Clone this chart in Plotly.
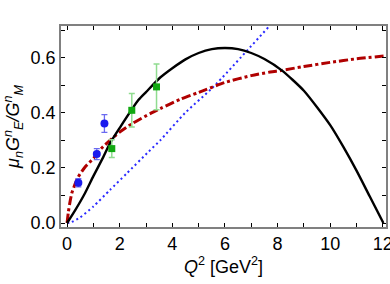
import plotly.graph_objects as go

# Curves
black_x = [0, 0.3, 0.68, 1.0, 1.38, 1.63, 2.0, 2.71, 3.0, 3.54, 4.0, 4.5, 5.0, 5.5, 6.0, 6.5, 7.0, 7.5, 8.16, 9.0, 10.0, 10.5, 11.0, 11.5, 12.02]
black_y = [0, 0.045, 0.108, 0.17, 0.24, 0.289, 0.345, 0.446, 0.475, 0.528, 0.562, 0.594, 0.617, 0.631, 0.635, 0.631, 0.617, 0.595, 0.554, 0.48, 0.355, 0.276, 0.19, 0.097, 0.0]

red_x = [0, 0.05, 0.1, 0.18, 0.3, 0.43, 0.7, 1.0, 1.3, 1.63, 2.0, 2.5, 3.16, 3.54, 4.3, 5.0, 6.0, 7.0, 7.72, 8.16, 9.0, 10.0, 11.0, 12.12]
red_y = [0, 0.04, 0.07, 0.108, 0.14, 0.168, 0.205, 0.234, 0.27, 0.30, 0.33, 0.362, 0.397, 0.415, 0.449, 0.474, 0.51, 0.535, 0.548, 0.554, 0.568, 0.583, 0.596, 0.607]

blue_x = [0, 0.11, 0.49, 1.0, 1.63, 2.27, 3.09, 3.54, 4.49, 5.56, 7.69]
blue_y = [0, 0.001, 0.02, 0.06, 0.12, 0.18, 0.258, 0.30, 0.40, 0.494, 0.715]

# Data points
blue_pts_x = [0.43, 1.13, 1.42]
blue_pts_y = [0.146, 0.25, 0.361]
blue_pts_err = [0.015, 0.02, 0.032]

green_pts_x = [1.70, 2.46, 3.40]
green_pts_y = [0.27, 0.409, 0.494]
green_pts_err = [0.032, 0.061, 0.083]

x_ticks = [0, 2, 4, 6, 8, 10, 12]
y_ticks = [0.0, 0.2, 0.4, 0.6]

fig = go.Figure()
fig.add_trace(go.Scatter(x=blue_x, y=blue_y, mode="lines",
                         line=dict(color="#2a2aff", width=2, dash="2px,3px", shape="spline",
                                   smoothing=0.6)))
fig.add_trace(go.Scatter(x=red_x, y=red_y, mode="lines",
                         line=dict(color="#b00000", width=3, dash="9px,3px,3px,3px",
                                   shape="spline", smoothing=0.6)))
fig.add_trace(go.Scatter(x=black_x, y=black_y, mode="lines",
                         line=dict(color="black", width=2.4, shape="spline", smoothing=0.6)))
fig.add_trace(go.Scatter(x=blue_pts_x, y=blue_pts_y, mode="markers",
                         marker=dict(color="#1a1aee", size=8, symbol="circle"),
                         error_y=dict(type="data", array=blue_pts_err, color="#6a6af0",
                                      thickness=1.3, width=3)))
fig.add_trace(go.Scatter(x=green_pts_x, y=green_pts_y, mode="markers",
                         marker=dict(color="#10a810", size=7, symbol="square"),
                         error_y=dict(type="data", array=green_pts_err, color="#90dc90",
                                      thickness=1.5, width=3)))

axis_common = dict(
    showgrid=False, zeroline=False, showline=True, linecolor="#808080", linewidth=1.5,
    mirror="ticks", ticks="inside", ticklen=4, tickwidth=1, tickcolor="black",
    automargin=False, ticklabeloverflow="allow",
    tickfont=dict(family="Liberation Sans, Arial, sans-serif", size=18, color="black"),
)

fig.update_layout(
    width=390, height=284,
    margin=dict(l=61, r=4, t=26, b=57),
    paper_bgcolor="white", plot_bgcolor="white",
    showlegend=False,
    font=dict(family="Liberation Sans, Arial, sans-serif", size=18, color="black"),
    xaxis=dict(range=[-0.23, 12.12], tickvals=x_ticks,
               minor=dict(dtick=1, tick0=0, ticks="inside", ticklen=4, tickcolor="black"),
               title=dict(text="<i>Q</i><sup>2</sup> [GeV<sup>2</sup>]", standoff=4,
                          font=dict(size=18)),
               **axis_common),
    yaxis=dict(range=[-0.0145, 0.715], tickvals=y_ticks, tickformat=".1f",
               minor=dict(dtick=0.1, tick0=0, ticks="inside", ticklen=4, tickcolor="black"),
               title=dict(text="<i>μ<sub>n</sub>G<sup>n</sup><sub>E</sub>/G<sup>n</sup><sub>M</sub></i>",
                          standoff=6, font=dict(size=18)),
               **axis_common),
)

fig.write_html("out.html", config={"displayModeBar": False},
               post_script="document.body.style.margin='0px';document.body.style.overflow='hidden';")
